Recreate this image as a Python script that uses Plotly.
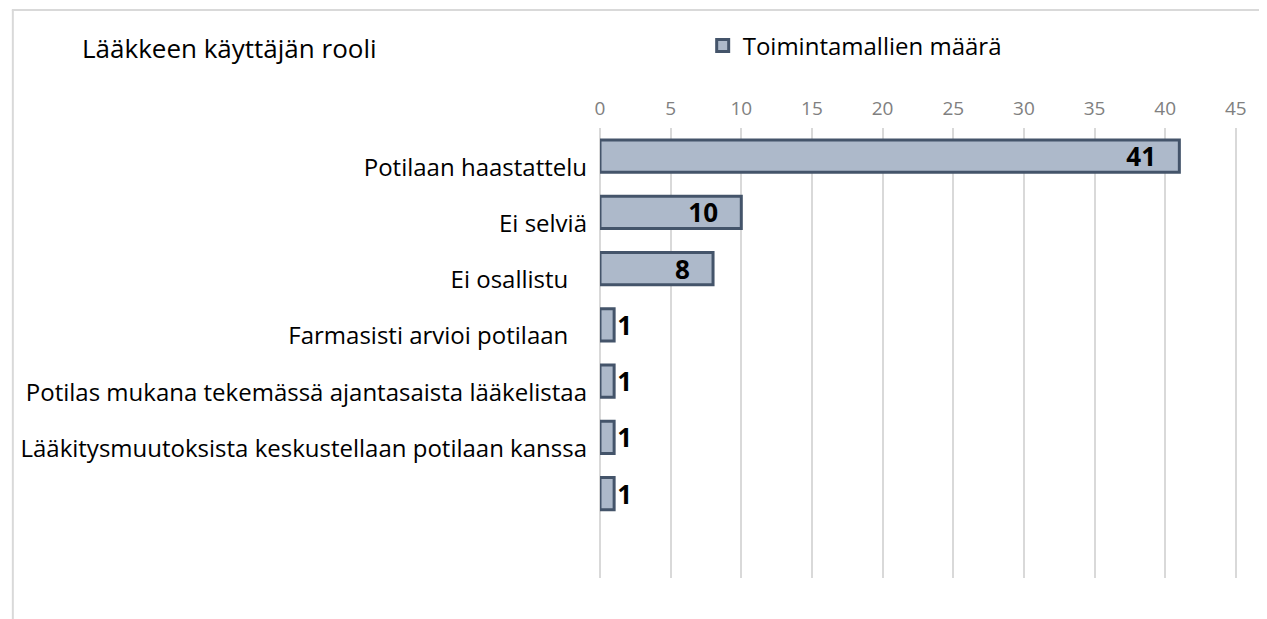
import plotly.graph_objects as go

categories = [
    "Potilaan haastattelu",
    "Ei selviä",
    "Ei osallistu\u00a0\u00a0\u00a0",
    "Farmasisti arvioi potilaan\u00a0\u00a0\u00a0",
    "Potilas mukana tekemässä ajantasaista lääkelistaa",
    "Lääkitysmuutoksista keskustellaan potilaan kanssa",
    " ",
    "  ",
]
values = [41, 10, 8, 1, 1, 1, 1, None]
text_labels = ["41", "10", "8", "1", "1", "1", "1", ""]
text_pos = ["inside", "inside", "inside", "outside", "outside", "outside", "outside", "none"]
series_name = "Toimintamallien määrä"
title_text = "Lääkkeen käyttäjän rooli"
x_ticks = [0, 5, 10, 15, 20, 25, 30, 35, 40, 45]

FONT = "Open Sans"
OFF = 8  # page body margin
W, H = 1267, 619
# plot area in reference page pixels: x 598..1237, y 128..578
L = 598 - OFF
T = 128 - OFF
R = W - (1237 - OFF)
B = H - (578 - OFF)

pw, ph = W - L - R, H - T - B
def px(x):  # reference page px -> paper x
    return (x - OFF - L) / pw
def py(y):  # reference page px -> paper y
    return (H - B - (y - OFF)) / ph

templates = ["%{text}\u00a0\u00a0\u00a0" if p == "inside" else "%{text}" for p in text_pos]
bold = dict(family=FONT, size=26, color="black", weight="bold")

fig = go.Figure()
fig.add_trace(go.Bar(
    y=categories, x=values, orientation="h", name=series_name,
    marker=dict(color="#ADB9CA", line=dict(color="#44546A", width=3)),
    text=text_labels, texttemplate=templates, textposition=text_pos,
    insidetextanchor="end", textangle=0, constraintext="none",
    textfont=bold, insidetextfont=bold, outsidetextfont=bold,
    cliponaxis=False, showlegend=True, hoverinfo="x+y",
))

fig.update_layout(
    width=W, height=H,
    margin=dict(l=L, r=R, t=T, b=B, pad=0),
    paper_bgcolor="white", plot_bgcolor="white",
    bargap=0.43,
    font=dict(family=FONT, color="black"),
    title=dict(text=title_text, x=(82 - OFF) / W, xanchor="left", y=1 - (49 - OFF) / H,
               yanchor="middle", font=dict(family=FONT, size=26, color="black")),
    legend=dict(orientation="h", x=px(701), xanchor="left", y=py(46), yanchor="middle",
                font=dict(family=FONT, size=24, color="black"), bgcolor="rgba(0,0,0,0)",
                itemwidth=30),
    xaxis=dict(side="top", range=[0, 45.08], tickvals=x_ticks, showgrid=True, gridcolor="#D9D9D9",
               gridwidth=1.5, zeroline=True, zerolinecolor="#D9D9D9", zerolinewidth=1.5,
               showline=False, ticks="",
               tickfont=dict(family=FONT, size=19, color="#808080"), ticklabelstandoff=8,
               fixedrange=True),
    yaxis=dict(type="category", categoryorder="array", categoryarray=categories,
               autorange="reversed", showgrid=False, zeroline=False, showline=False, ticks="",
               tickfont=dict(family=FONT, size=24, color="black"), ticklabelstandoff=12,
               ticklabelshift=-11, fixedrange=True),
    shapes=[
        dict(type="line", xref="paper", yref="paper", x0=px(8), x1=px(W + 20), y0=py(10), y1=py(10),
             line=dict(color="#D9D9D9", width=2)),
        dict(type="line", xref="paper", yref="paper", x0=px(9), x1=px(9), y0=py(10), y1=py(H + 20),
             line=dict(color="#D9D9D9", width=2)),
    ],
)

fig.write_html("out.html")
